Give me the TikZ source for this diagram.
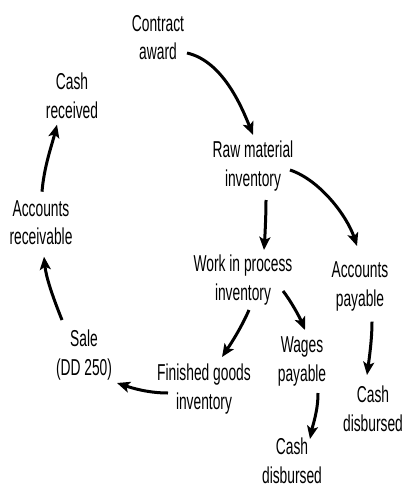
\documentclass[tikz,border=0pt]{standalone}
\usepackage{fontspec}
\setmainfont{Liberation Sans}[FakeStretch=0.6]
\usetikzlibrary{arrows.meta}
\begin{document}
\begin{tikzpicture}[x=1pt,y=-1pt,
  lbl/.style={align=center,inner sep=0pt,font=\fontsize{23}{28.5}\selectfont},
  flow/.style={line width=3pt,-{Stealth[length=13pt,width=11pt,inset=3pt]}}]
\useasboundingbox (0,0) rectangle (405,489);
\node[lbl] (ca) at (158,37.7) {Contract\\award};
\node[lbl] (cr) at (72,95.7) {Cash\\received};
\node[lbl] (rm) at (253,166) {Raw material\\inventory};
\node[lbl] (ar) at (41,222.7) {Accounts\\receivable};
\node[lbl] (wp) at (243,280) {Work in process\\inventory};
\node[lbl] (ap) at (360,286.7) {Accounts\\payable};
\node[lbl] (sale) at (84,355) {Sale\\(DD 250)};
\node[lbl] (fg) at (204,389) {Finished goods\\inventory};
\node[lbl] (wg) at (302,361.5) {Wages\\payable};
\node[lbl] (cd1) at (373,409) {Cash\\disbursed};
\node[lbl] (cd2) at (292,461) {Cash\\disbursed};
% connectors
\draw[flow] ([shift={(29,15.3)}]ca.center) .. controls +(35,8) and +(-12,-30) .. ([shift={(0,-31)}]rm.center);
\draw[flow] ([shift={(37,4)}]rm.center) .. controls +(30,10) and +(-10,-30) .. ([shift={(-3,-40.7)}]ap.center);
\draw[flow] ([shift={(13,34)}]rm.center) .. controls +(0,15) and +(1,-15) .. ([shift={(21,-30)}]wp.center);
\draw[flow] ([shift={(6,30)}]wp.center) .. controls +(-8,18) and +(10,-15) .. ([shift={(18,-32)}]fg.center);
\draw[flow] ([shift={(40,11)}]wp.center) .. controls +(8,10) and +(-5,-12) .. ([shift={(3,-31.5)}]wg.center);
\draw[flow] ([shift={(12,35)}]ap.center) .. controls +(0,18) and +(2,-15) .. ([shift={(-6,-34)}]cd1.center);
\draw[flow] ([shift={(16,31.5)}]wg.center) .. controls +(0,18) and +(3,-15) .. ([shift={(18,-22)}]cd2.center);
\draw[flow] ([shift={(-36,4)}]fg.center) .. controls +(-20,0) and +(15,5) .. ([shift={(33,28)}]sale.center);
\draw[flow] ([shift={(-22,-35)}]sale.center) .. controls +(-10,-25) and +(2,20) .. ([shift={(3,34)}]ar.center);
\draw[flow] ([shift={(1,-31)}]ar.center) .. controls +(2,-25) and +(-5,20) .. ([shift={(-15,29)}]cr.center);
\end{tikzpicture}
\end{document}
